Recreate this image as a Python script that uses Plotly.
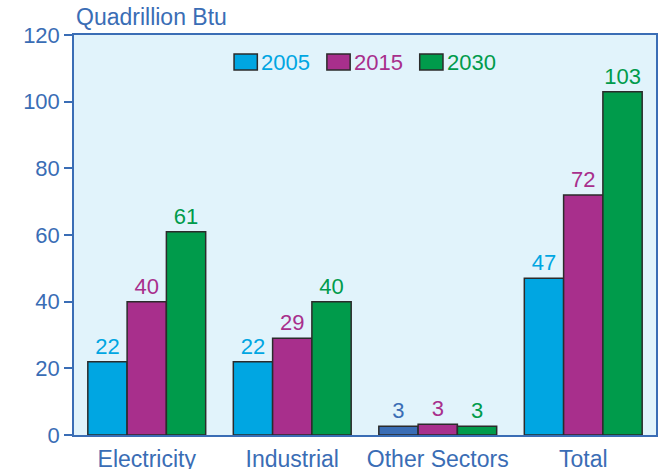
import plotly.graph_objects as go

# Energy consumption by sector (quadrillion Btu)
sectors = ["Electricity", "Industrial", "Other Sectors", "Total"]
years = ["2005", "2015", "2030"]
values_2005 = [22, 22, 2.6, 47]
values_2015 = [40, 29, 3.2, 72]
values_2030 = [61, 40, 2.6, 103]

AXIS_BLUE = "#3a6db5"
series_colors = {
    "2005": "#00a6e2",
    "2015": "#a82f8c",
    "2030": "#009b4b",
}
OUTLINE = "#2b2b2b"
FONT = "Liberation Sans, Arial, Helvetica, sans-serif"

fig = go.Figure()
for year, vals in zip(years, [values_2005, values_2015, values_2030]):
    col = series_colors[year]
    # the "Other Sectors" 2005 bar is drawn in the darker axis blue
    bar_cols = [col] * len(vals)
    if year == "2005":
        bar_cols[2] = AXIS_BLUE
    fig.add_trace(go.Bar(
        x=sectors,
        y=vals,
        name=year,
        marker=dict(color=bar_cols, line=dict(color=OUTLINE, width=1.5)),
        texttemplate="%{y:.0f}",
        textposition="outside",
        textfont=dict(color=bar_cols, size=22, family=FONT),
        cliponaxis=False,
        showlegend=False,
    ))

# Legend: wide swatches with the year written in the series colour
shapes = []
annotations = []
legend_x0 = 0.275      # left edge of first swatch (paper units)
legend_step = 0.1595   # distance between entries
swatch_w = 0.04
for i, year in enumerate(years):
    x0 = legend_x0 + i * legend_step
    shapes.append(dict(
        type="rect", xref="paper", yref="paper",
        x0=x0, x1=x0 + swatch_w, y0=0.9125, y1=0.9525,
        fillcolor=series_colors[year],
        line=dict(color=OUTLINE, width=1.5),
    ))
    annotations.append(dict(
        text=year, xref="paper", yref="paper",
        x=x0 + swatch_w + 0.003, y=0.9325,
        xanchor="left", yanchor="middle",
        showarrow=False,
        font=dict(size=22, color=series_colors[year], family=FONT),
    ))

annotations.append(dict(
    text="Quadrillion Btu",
    xref="paper", yref="paper",
    x=0.0, y=1.0,
    xanchor="left", yanchor="bottom",
    yshift=3,
    showarrow=False,
    font=dict(size=23, color=AXIS_BLUE, family=FONT),
))

fig.update_layout(
    width=658,
    height=469,
    margin=dict(l=74, r=2, t=35, b=34),
    paper_bgcolor="white",
    plot_bgcolor="#e1f3fb",
    barmode="group",
    bargap=0.19,
    bargroupgap=0,
    font=dict(family=FONT, color=AXIS_BLUE, size=22),
    showlegend=False,
    shapes=shapes,
    annotations=annotations,
)

fig.update_xaxes(
    showline=True, linecolor=AXIS_BLUE, linewidth=1.5, mirror=True,
    showgrid=False, ticks="",
    automargin=False,
    ticklabelstandoff=3,
    tickfont=dict(size=23, color=AXIS_BLUE),
)
fig.update_yaxes(
    range=[0, 120], dtick=20,
    showline=True, linecolor=AXIS_BLUE, linewidth=1.5, mirror=True,
    showgrid=False, zeroline=False,
    automargin=False,
    ticks="outside", ticklen=8, tickcolor=AXIS_BLUE, tickwidth=1.5,
    tickfont=dict(size=22, color=AXIS_BLUE),
)

fig.write_html("out.html")
